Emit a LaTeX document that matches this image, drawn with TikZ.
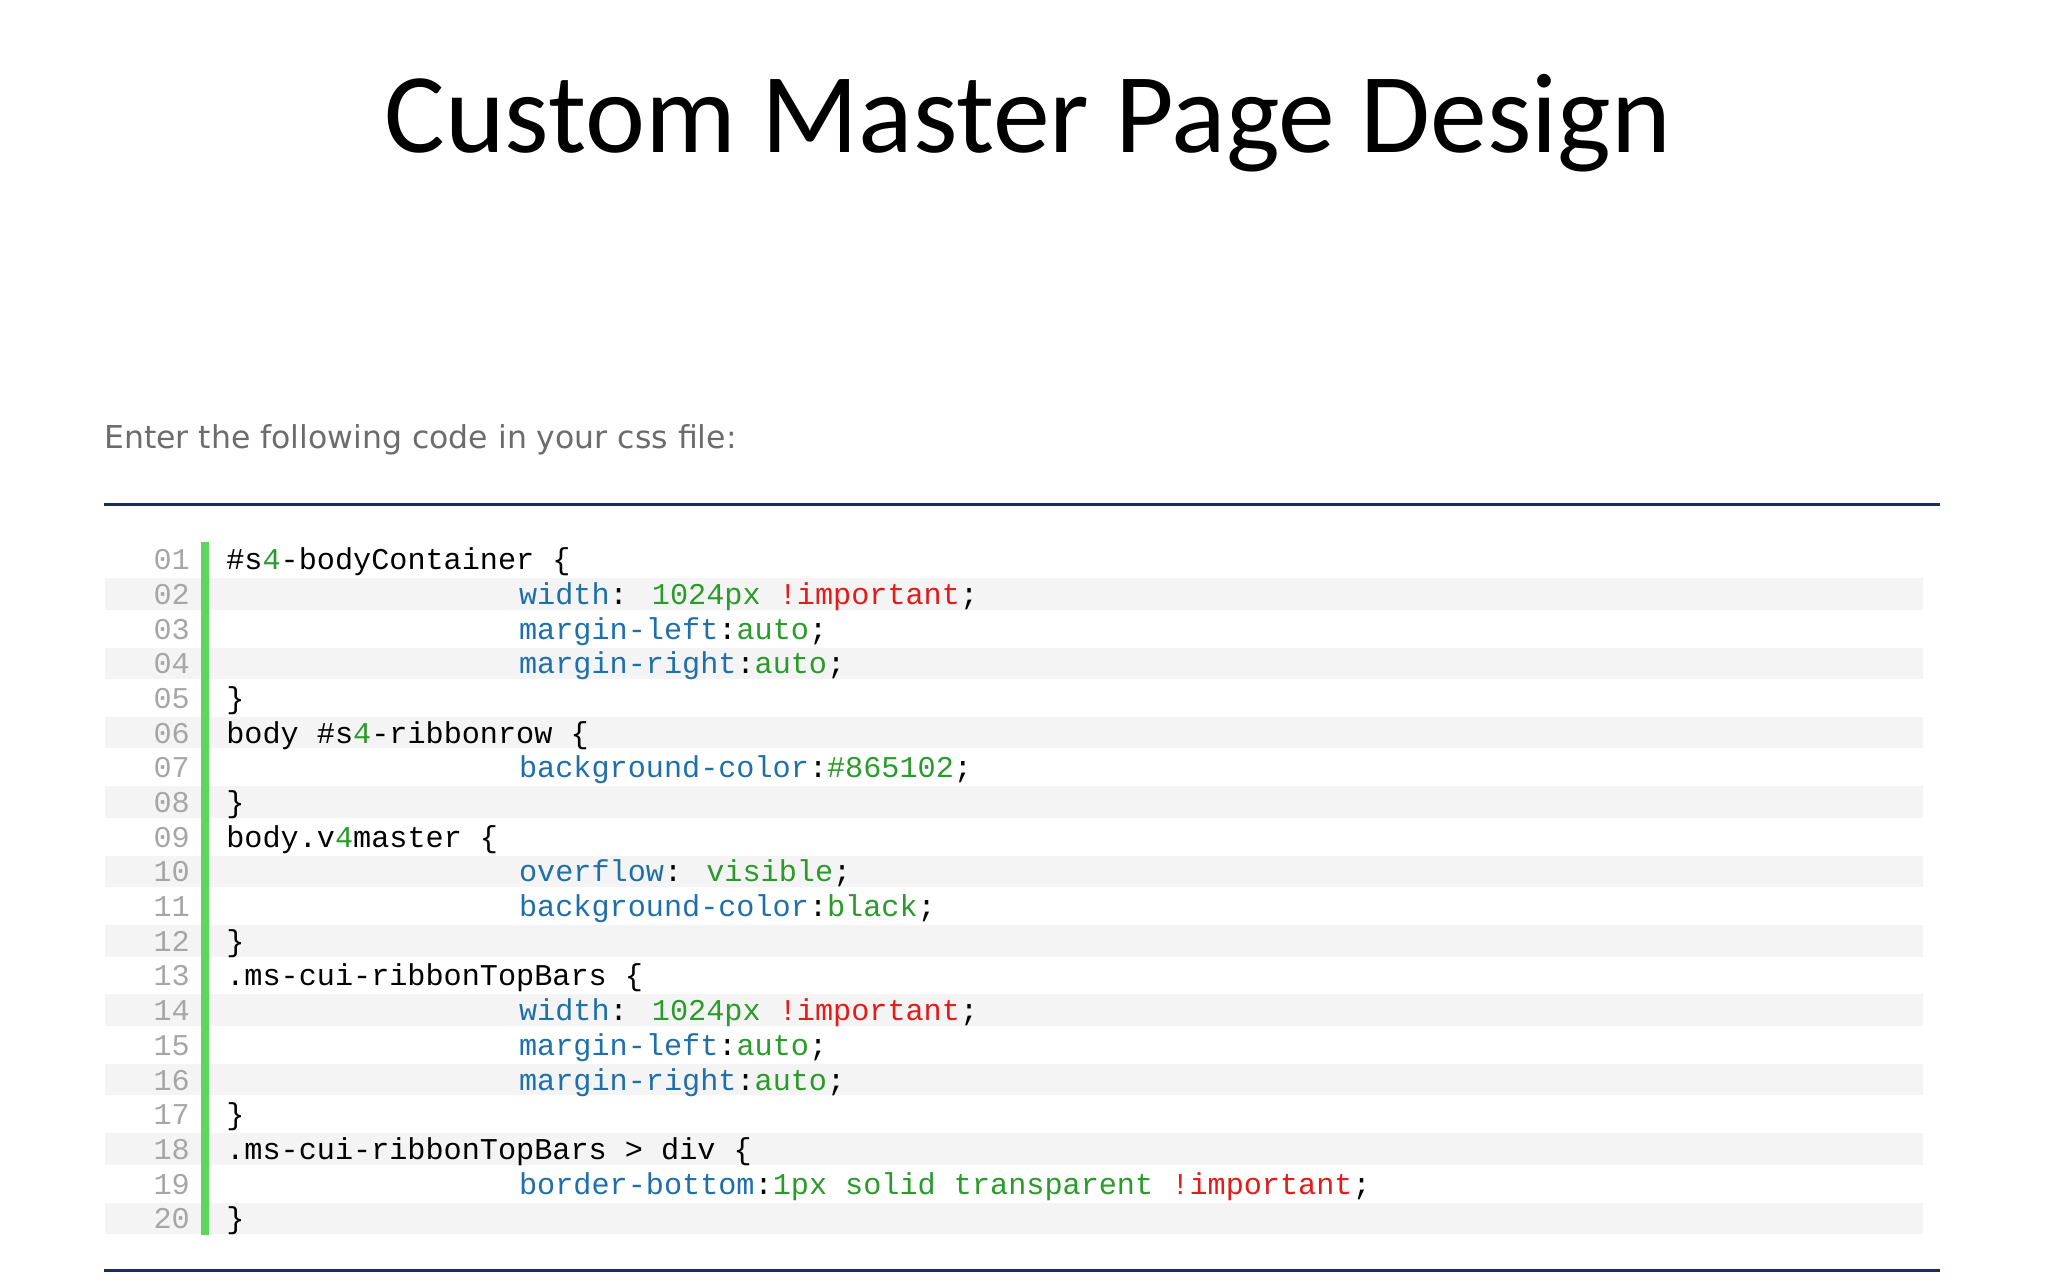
\documentclass[tikz,border=0pt]{standalone}
\usepackage{fontspec}
\setmainfont{Carlito}
\newfontfamily\uifont{DejaVu Sans}
\newfontfamily\codefont{Liberation Mono}
\definecolor{kw}{HTML}{1F6FAA}
\definecolor{gr}{HTML}{2A9A2A}
\definecolor{rd}{HTML}{E41B1B}
\definecolor{nav}{HTML}{1C2A5C}
\definecolor{stripe}{HTML}{F4F4F4}
\definecolor{bar}{HTML}{5CD65C}
\newcommand{\K}[1]{\textcolor{kw}{#1}}
\newcommand{\G}[1]{\textcolor{gr}{#1}}
\newcommand{\R}[1]{\textcolor{rd}{#1}}
\begin{document}
\begin{tikzpicture}[x=0.5pt,y=-0.5pt,
  code/.style={anchor=base west,inner sep=0,font=\codefont\fontsize{11.5}{14}\selectfont},
  num/.style={anchor=base east,inner sep=0,text=gray!70,font=\codefont\fontsize{11.5}{14}\selectfont}]
\useasboundingbox (0,0) rectangle (1560,975);
\node[font=\fontsize{43.3}{48}\selectfont,anchor=center] (title) at (783,94) {Custom Master Page Design};
\node[anchor=base west,inner sep=0,text=gray!85!black,font=\uifont\fontsize{12}{14}\selectfont] (intro) at (79,342) {Enter the following code in your css file:};
\coordinate (t1) at (79,384); \coordinate (t2) at (1478,384);
\draw[nav,line width=1.2pt] (t1) -- (t2);
\coordinate (b1) at (79,968); \coordinate (b2) at (1478,968);
\draw[nav,line width=1.2pt] (b1) -- (b2);
\foreach \i in {2,4,...,20}{
  \fill[stripe] (80,{426+(\i-1)*26.42-12}) rectangle (1465,{426+(\i-1)*26.42+12});
}
\fill[bar] (153,413) rectangle (159,941);
\foreach \i/\t in {1/01,2/02,3/03,4/04,5/05,6/06,7/07,8/08,9/09,10/10,11/11,12/12,13/13,14/14,15/15,16/16,17/17,18/18,19/19,20/20}{
  \node[num] (n\i) at (145,{426+(\i-1)*26.42+8}) {\t};
}
\def\Y#1{{426+(#1-1)*26.42+8}}
\node[code] (l1) at (172,\Y{1}) {\#s\G{4}-bodyContainer \{};
\node[code] (l2) at (395,\Y{2}) {\K{width}: \G{1024px} \R{!important};};
\node[code] (l3) at (395,\Y{3}) {\K{margin-left}:\G{auto};};
\node[code] (l4) at (395,\Y{4}) {\K{margin-right}:\G{auto};};
\node[code] (l5) at (172,\Y{5}) {\}};
\node[code] (l6) at (172,\Y{6}) {body \#s\G{4}-ribbonrow \{};
\node[code] (l7) at (395,\Y{7}) {\K{background-color}:\G{\#865102};};
\node[code] (l8) at (172,\Y{8}) {\}};
\node[code] (l9) at (172,\Y{9}) {body.v\G{4}master \{};
\node[code] (l10) at (395,\Y{10}) {\K{overflow}: \G{visible};};
\node[code] (l11) at (395,\Y{11}) {\K{background-color}:\G{black};};
\node[code] (l12) at (172,\Y{12}) {\}};
\node[code] (l13) at (172,\Y{13}) {.ms-cui-ribbonTopBars \{};
\node[code] (l14) at (395,\Y{14}) {\K{width}: \G{1024px} \R{!important};};
\node[code] (l15) at (395,\Y{15}) {\K{margin-left}:\G{auto};};
\node[code] (l16) at (395,\Y{16}) {\K{margin-right}:\G{auto};};
\node[code] (l17) at (172,\Y{17}) {\}};
\node[code] (l18) at (172,\Y{18}) {.ms-cui-ribbonTopBars > div \{};
\node[code] (l19) at (395,\Y{19}) {\K{border-bottom}:\G{1px solid transparent} \R{!important};};
\node[code] (l20) at (172,\Y{20}) {\}};
\end{tikzpicture}
\end{document}
